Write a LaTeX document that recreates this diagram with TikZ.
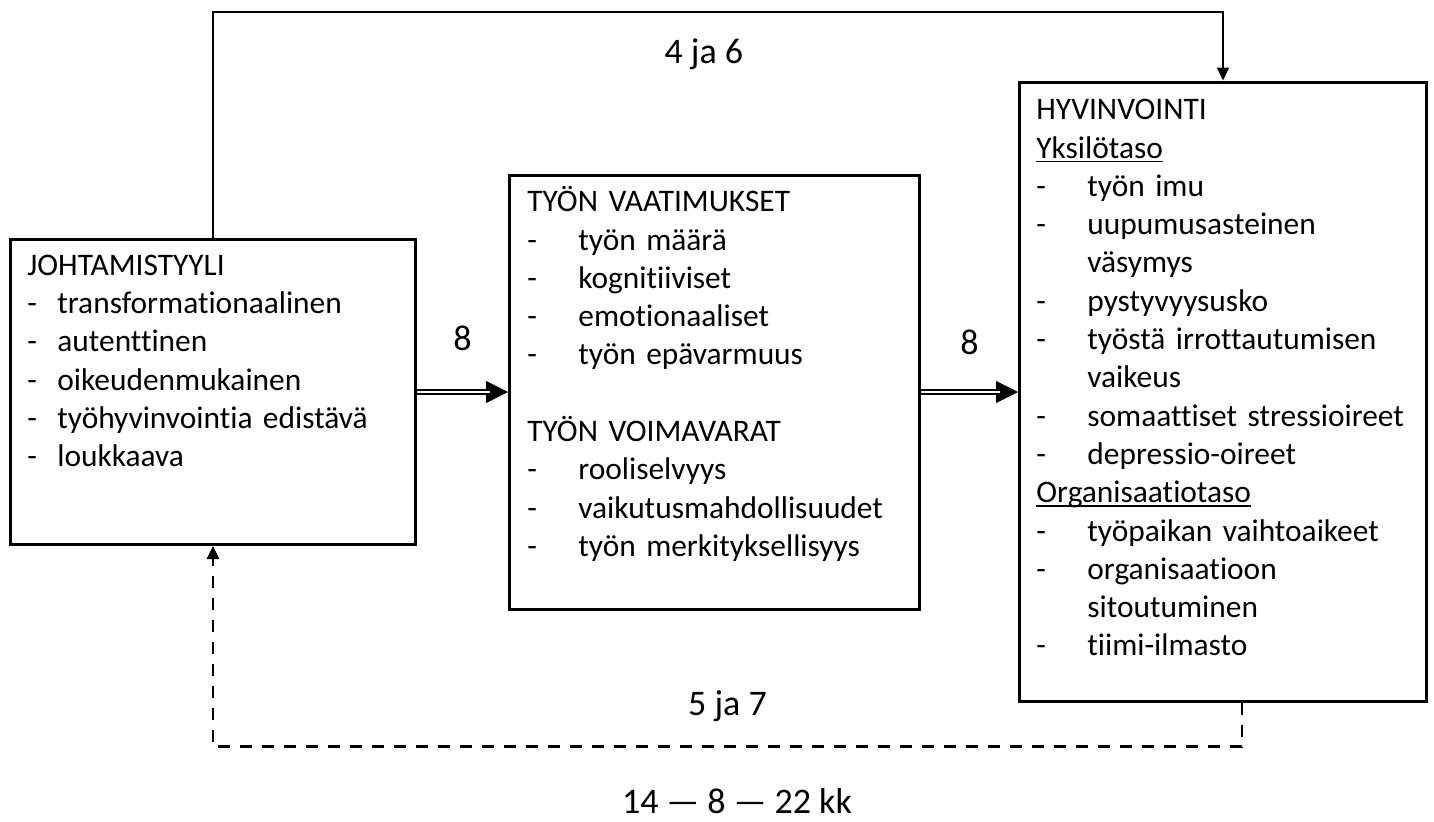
\documentclass[tikz,border=0pt]{standalone}
\usepackage{fontspec}
\setmainfont{Carlito}[Ligatures=NoCommon]
\usepackage{tikz}
\usetikzlibrary{arrows.meta, positioning}

\newlength{\dashind}
\newcommand{\itm}[1]{\par\noindent\makebox[\dashind][l]{-}#1}
\newcommand{\itmcont}[1]{\par\noindent\hspace*{\dashind}#1}
\newcommand{\ulin}[1]{\setbox0\hbox{#1}\rlap{\rule[-2.2pt]{\wd0}{0.9pt}}\box0}

\begin{document}
\begin{tikzpicture}[
    x=0.5pt, y=-0.5pt,
    frame/.style={rectangle, draw=black, line width=1.5pt, anchor=north west, inner sep=0pt},
    boxtext/.style={inner sep=0pt, text width=195pt, align=left, font=\fontsize{15.7}{19.15}\selectfont},
    narrow/.style={boxtext, execute at begin node={\setlength{\dashind}{15pt}}},
    wide/.style={boxtext, execute at begin node={\setlength{\dashind}{25.5pt}}},
    num/.style={font=\fontsize{18}{21}\selectfont, inner sep=0pt},
    tip/.style={line width=0.4pt, -{Triangle[length=11pt, width=11pt]}},
    dbl/.style={double, double distance=1.3pt, line width=0.9pt, shorten >=9pt},
    arr/.style={line width=1pt, -{Triangle[length=6.5pt, width=6pt]}},
    back/.style={arr, line width=1.3pt, dash pattern=on 6pt off 5pt},
  ]
  \useasboundingbox (0,0) rectangle (1434,821);

  % Frames
  \node[frame, minimum width=202.5pt, minimum height=152.5pt] (lead) at (9,238) {};
  \node[frame, minimum width=205pt, minimum height=217pt] (work) at (508,173.5) {};
  \node[frame, minimum width=203.5pt, minimum height=309.5pt] (well) at (1018,80.5) {};

  % Box contents
  \node[narrow, below right=5pt and 9pt of lead.north west] (leadtxt) {\noindent\strut JOHTAMISTYYLI
    \itm{transformationaalinen}
    \itm{autenttinen}
    \itm{oikeudenmukainen}
    \itm{työhyvinvointia edistävä}
    \itm{loukkaava}};

  \node[wide, below right=5.5pt and 9.5pt of work.north west] (worktxt) {\noindent\strut TYÖN VAATIMUKSET
    \itm{työn määrä}
    \itm{kognitiiviset}
    \itm{emotionaaliset}
    \itm{työn epävarmuus}
    \par\noindent\strut
    \par\noindent TYÖN VOIMAVARAT
    \itm{rooliselvyys}
    \itm{vaikutusmahdollisuudet}
    \itm{työn merkityksellisyys}};

  \node[wide, below right=6pt and 9pt of well.north west] (welltxt) {\noindent\strut HYVINVOINTI
    \par\noindent\ulin{Yksilötaso}
    \itm{työn imu}
    \itm{uupumusasteinen}
    \itmcont{väsymys}
    \itm{pystyvyysusko}
    \itm{työstä irrottautumisen}
    \itmcont{vaikeus}
    \itm{somaattiset stressioireet}
    \itm{depressio-oireet}
    \par\noindent\ulin{Organisaatiotaso}
    \itm{työpaikan vaihtoaikeet}
    \itm{organisaatioon}
    \itmcont{sitoutuminen}
    \itm{tiimi-ilmasto}};

  % Connectors
  \draw[tip] (lead.east) -- (lead.east -| work.west);
  \draw[dbl] (lead.east) -- node[num, above=20pt] (eightA) {8} (lead.east -| work.west);
  \draw[tip] (work.east) -- (work.east -| well.west);
  \draw[dbl] (work.east) -- node[num, above=18pt] (eightB) {8} (work.east -| well.west);
  \draw[arr] (lead.north) -- ++(0,-226) -| node[num, pos=0.243, below=13pt] (topnum) {4 ja 6} (well.north);
  \draw[back] ([xshift=9.5pt]well.south) -- ++(0,44) -| node[num, pos=0.25, above=12pt] (backnum) {5 ja 7} (lead.south);

  \node[num] (span) at (737,801) {14 — 8 — 22 kk};
\end{tikzpicture}
\end{document}
